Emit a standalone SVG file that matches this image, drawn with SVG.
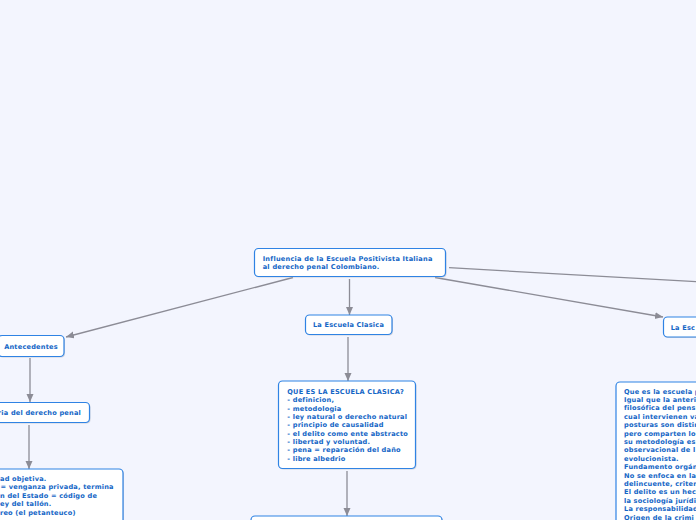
<svg xmlns="http://www.w3.org/2000/svg" width="696" height="520" viewBox="0 0 696 520">
<style>
.bg{fill:#f3f5fe}
.box{fill:#ffffff;stroke:#2f83e4;stroke-width:1.2}
.sh{fill:#b9bcc6;opacity:0.6}
.t{font-family:"DejaVu Sans",Verdana,sans-serif;font-weight:bold;font-size:6.6px;letter-spacing:0.2px;fill:#1466c6}
.r{letter-spacing:0.23px}
.c{stroke:#8c8c96;stroke-width:1.3;fill:none}
</style>
<defs>
<marker id="ah" markerUnits="userSpaceOnUse" markerWidth="9" markerHeight="8" refX="8" refY="3.5" orient="auto">
<path d="M0,0 L8,3.5 L0,7 z" fill="#8c8c96"/>
</marker>
</defs>
<rect class="bg" x="0" y="0" width="696" height="520"/>
<g id="connectors">
<line class="c" x1="293" y1="277.5" x2="66" y2="337" marker-end="url(#ah)"/>
<line class="c" x1="349.5" y1="279" x2="349.5" y2="315" marker-end="url(#ah)"/>
<line class="c" x1="435" y1="277.5" x2="663" y2="317" marker-end="url(#ah)"/>
<line class="c" x1="449" y1="267.7" x2="900" y2="293.3"/>
<line class="c" x1="30" y1="358" x2="30" y2="402" marker-end="url(#ah)"/>
<line class="c" x1="29" y1="425" x2="29" y2="469" marker-end="url(#ah)"/>
<line class="c" x1="348" y1="337" x2="348" y2="381" marker-end="url(#ah)"/>
<line class="c" x1="347" y1="471" x2="347" y2="516" marker-end="url(#ah)"/>
</g>
<g id="n-root">
<rect class="sh" x="255.5" y="249.5" width="191" height="28" rx="4"/>
<rect class="box" x="254.5" y="248.5" width="191" height="28" rx="4"/>
<text class="t r" x="262.7" y="260.5">Influencia de la Escuela Positivista Italiana</text>
<text class="t r" x="262.7" y="268.8">al derecho penal Colombiano.</text>
</g>
<g id="n-antecedentes">
<rect class="sh" x="-1" y="336.5" width="66" height="21" rx="4"/>
<rect class="box" x="-2" y="335.5" width="66" height="21" rx="4"/>
<text class="t" x="31" y="348.5" text-anchor="middle">Antecedentes</text>
</g>
<g id="n-historia">
<rect class="sh" x="-25" y="403.5" width="115.5" height="20" rx="4"/>
<rect class="box" x="-26" y="402.5" width="115.5" height="20" rx="4"/>
<text class="t" x="81" y="414.5" text-anchor="end">ria del derecho penal</text>
</g>
<g id="n-historia-detalle">
<rect class="sh" x="-59" y="470" width="183" height="80" rx="4"/>
<rect class="box" x="-60" y="469" width="183" height="80" rx="4"/>
<text class="t" x="0" y="480.5">ad objetiva.</text>
<text class="t" x="0.5" y="489">= venganza privada, termina</text>
<text class="t" x="0" y="497.5">n del Estado = código de</text>
<text class="t" x="0" y="506">ey del tallón.</text>
<text class="t" x="0" y="514.5">reo (el petanteuco)</text>
</g>
<g id="n-clasica">
<rect class="sh" x="306.5" y="316" width="86.5" height="19.5" rx="4"/>
<rect class="box" x="305.5" y="315" width="86.5" height="19.5" rx="4"/>
<text class="t" x="348.5" y="327" text-anchor="middle">La Escuela Clasica</text>
</g>
<g id="n-clasica-detalle">
<rect class="sh" x="279.5" y="382" width="137" height="87.5" rx="4"/>
<rect class="box" x="278.5" y="381" width="137" height="87.5" rx="4"/>
<text class="t" x="287.3" y="393.8">QUE ES LA ESCUELA CLASICA?</text>
<text class="t" x="287.3" y="402.1">- definicion,</text>
<text class="t" x="287.3" y="410.5">- metodologia</text>
<text class="t" x="287.3" y="418.9">- ley natural o derecho natural</text>
<text class="t" x="287.3" y="427.2">- principio de causalidad</text>
<text class="t" x="287.3" y="435.6">- el delito como ente abstracto</text>
<text class="t" x="287.3" y="444">- libertad y voluntad.</text>
<text class="t" x="287.3" y="452.3">- pena = reparación del daño</text>
<text class="t" x="287.3" y="460.7">- libre albedrio</text>
</g>
<g id="n-clasica-siguiente">
<rect class="sh" x="252" y="517" width="191" height="50" rx="4"/>
<rect class="box" x="251" y="516" width="191" height="50" rx="4"/>
</g>
<g id="n-positivista">
<rect class="sh" x="664.5" y="318" width="80" height="20" rx="4"/>
<rect class="box" x="663.5" y="317" width="80" height="20" rx="4"/>
<text class="t" x="670.7" y="329.5">La Esc</text>
</g>
<g id="n-positivista-detalle">
<rect class="sh" x="617" y="383" width="200" height="200" rx="4"/>
<rect class="box" x="616" y="382" width="200" height="200" rx="4"/>
<text class="t" x="624" y="393.5">Que es la escuela p</text>
<text class="t" x="624" y="402">Igual que la anteri</text>
<text class="t" x="624" y="410.4">filosófica del pens</text>
<text class="t" x="624" y="418.8">cual intervienen va</text>
<text class="t" x="624" y="427.1">posturas son distin</text>
<text class="t" x="624" y="435.5">pero comparten lo</text>
<text class="t" x="624" y="443.8">su metodología es</text>
<text class="t" x="624" y="452.2">observacional de l</text>
<text class="t" x="624" y="460.5">evolucionista.</text>
<text class="t" x="624" y="469.2">Fundamento orgán</text>
<text class="t" x="624" y="477.5">No se enfoca en la</text>
<text class="t" x="624" y="485.8">delincuente, criter</text>
<text class="t" x="624" y="494.4">El delito es un hec</text>
<text class="t" x="624" y="502.7">la sociología jurídi</text>
<text class="t" x="624" y="511.3">La responsabilidad</text>
<text class="t" x="624" y="519.7">Origen de la crimi</text>
</g>
</svg>
